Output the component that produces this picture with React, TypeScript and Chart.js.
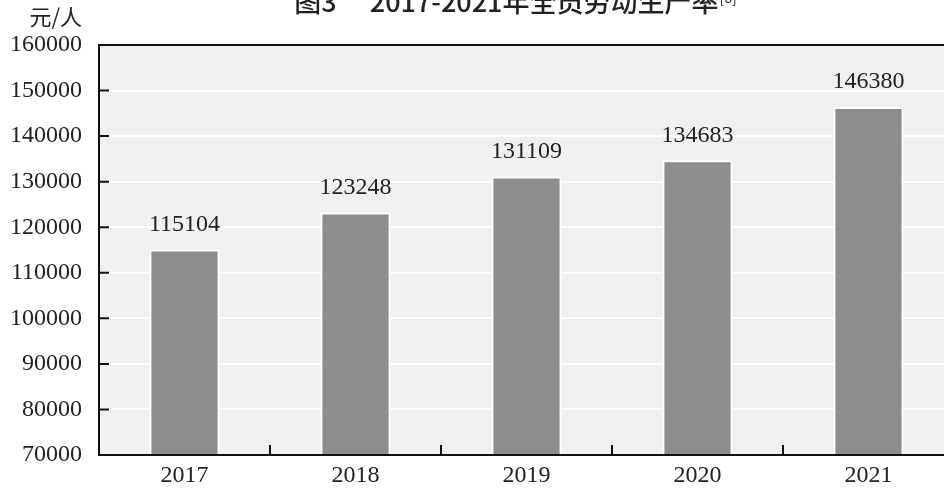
import React, { useEffect, useRef } from "react";
import { Chart, registerables } from "chart.js";

Chart.register(...registerables);

const categories = ["2017", "2018", "2019", "2020", "2021"];
const values = [115104, 123248, 131109, 134683, 146380];
const yMin = 70000;
const yMax = 160000;
const yStep = 10000;
const titleText = "图3\u3000 2017-2021年全员劳动生产率";
const titleNote = "[6]";
const unitText = "元/人";

const SERIF = "'Liberation Serif', 'DejaVu Serif', serif";
const CJK = "'Noto Sans CJK SC', sans-serif";

const framePlugin = {
  id: "frame",
  beforeDraw(chart: any) {
    const { ctx, chartArea } = chart;
    ctx.save();
    ctx.fillStyle = "#f0f0f0";
    ctx.fillRect(chartArea.left, chartArea.top, chartArea.right - chartArea.left, chartArea.bottom - chartArea.top);
    ctx.restore();
  },
  afterDraw(chart: any) {
    const { ctx, chartArea, scales } = chart;
    const xs = scales.x;
    const ys = scales.y;
    ctx.save();
    ctx.strokeStyle = "#111";
    ctx.lineWidth = 2;
    ctx.strokeRect(chartArea.left, chartArea.top, chartArea.right - chartArea.left, chartArea.bottom - chartArea.top);
    // y ticks inward
    ctx.beginPath();
    ys.ticks.forEach((t: any) => {
      if (t.value === yMin || t.value === yMax) return;
      const y = ys.getPixelForValue(t.value);
      ctx.moveTo(chartArea.left, y);
      ctx.lineTo(chartArea.left + 10, y);
    });
    // x ticks between categories
    for (let i = 1; i < categories.length; i++) {
      const x = (xs.getPixelForTick(i - 1) + xs.getPixelForTick(i)) / 2;
      ctx.moveTo(x, chartArea.bottom);
      ctx.lineTo(x, chartArea.bottom - 10);
    }
    ctx.stroke();

    // value labels
    ctx.fillStyle = "#222";
    ctx.font = `24px ${SERIF}`;
    ctx.textAlign = "center";
    ctx.textBaseline = "middle";
    const meta = chart.getDatasetMeta(0);
    meta.data.forEach((bar: any, i: number) => {
      ctx.fillText(String(values[i]), bar.x, bar.y - 25);
    });

    // unit label
    ctx.font = `22px ${CJK}`;
    ctx.textAlign = "right";
    ctx.fillText(unitText, 82, 17);

    // title
    ctx.font = `500 27px ${CJK}`;
    ctx.textAlign = "left";
    const w = ctx.measureText(titleText).width;
    const noteFont = `14px ${CJK}`;
    ctx.save();
    ctx.font = noteFont;
    const nw = ctx.measureText(titleNote).width;
    ctx.restore();
    const startX = 515 - (w + nw) / 2;
    ctx.fillText(titleText, startX, 2);
    ctx.font = noteFont;
    ctx.fillText(titleNote, startX + w + 1, -2);
    ctx.restore();
  },
};

export default function App() {
  const ref = useRef<HTMLCanvasElement>(null);
  useEffect(() => {
    if (!ref.current) return;
    const chart = new Chart(ref.current, {
      type: "bar",
      data: {
        labels: categories,
        datasets: [
          {
            data: values,
            backgroundColor: "#8d8d8d",
            borderColor: "#ffffff",
            borderWidth: 2,
            barPercentage: 0.41,
            categoryPercentage: 1,
          },
        ],
      },
      options: {
        responsive: false,
        animation: false,
        layout: { padding: { top: 45, right: 6, left: 0, bottom: 0 } },
        plugins: {
          legend: { display: false },
          title: { display: false },
          tooltip: { enabled: false },
        },
        scales: {
          x: {
            grid: { display: false, drawTicks: false },
            border: { display: false },
            ticks: {
              color: "#222",
              font: { family: SERIF, size: 24 },
              padding: 6,
            },
            afterFit(scale: any) {
              scale.height = 35;
            },
          },
          y: {
            min: yMin,
            max: yMax,
            grid: { color: "#ffffff", lineWidth: 2, drawTicks: false },
            border: { display: false },
            ticks: {
              stepSize: yStep,
              color: "#222",
              font: { family: SERIF, size: 24 },
              padding: 17,
              callback: (v: any) => String(v),
            },
            afterFit(scale: any) {
              scale.width = 99;
            },
          },
        },
      },
      plugins: [framePlugin],
    });
    return () => chart.destroy();
  }, []);
  return (
    <div style={{ position: "absolute", left: 0, top: 0, width: 944, height: 490, overflow: "hidden", background: "#fff" }}>
      <canvas ref={ref} width={960} height={490} style={{ display: "block" }} />
    </div>
  );
}
